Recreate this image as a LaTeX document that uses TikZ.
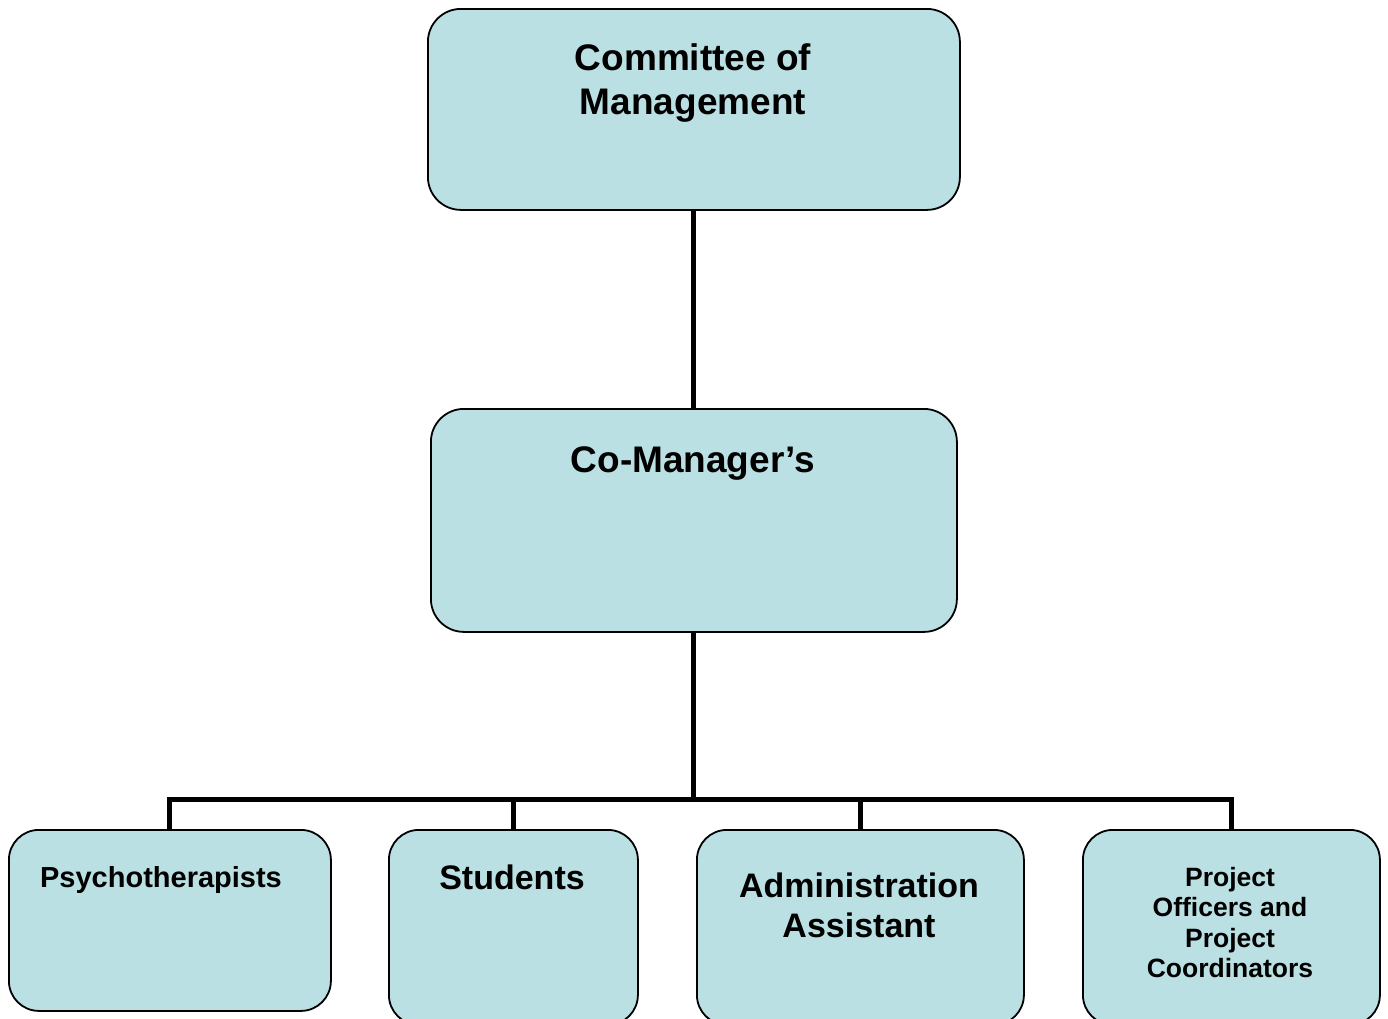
\documentclass[tikz,border=0pt]{standalone}
\usepackage{fontspec}
\setmainfont{Liberation Sans}
\definecolor{boxfill}{RGB}{187,224,227}
\tikzset{
  orgbox/.style={draw=black, line width=1.8pt, fill=boxfill, rounded corners=33pt, anchor=north west, inner sep=0pt},
  orgtext/.style={anchor=north, align=center, inner sep=0pt, font=\bfseries},
  conn/.style={draw=black, line width=5pt}
}
\begin{document}
\begin{tikzpicture}[x=1pt,y=-1pt]
\useasboundingbox (0,0) rectangle (1388,1018);
% boxes
\node[orgbox, minimum width=532pt, minimum height=201pt] (top) at (427,8) {};
\node[orgbox, minimum width=526pt, minimum height=223pt] (mid) at (430,408) {};
\node[orgbox, minimum width=322pt, minimum height=181pt, rounded corners=30pt] (psy) at (8,829) {};
\node[orgbox, minimum width=249pt, minimum height=195pt, rounded corners=30pt] (stu) at (388,829) {};
\node[orgbox, minimum width=327pt, minimum height=195pt, rounded corners=30pt] (adm) at (696,829) {};
\node[orgbox, minimum width=297pt, minimum height=195pt, rounded corners=30pt] (proj) at (1082,829) {};
% texts
\node[orgtext, font=\bfseries\fontsize{37}{44}\selectfont] (toptxt) at (693,43) {Committee of\\Management};
\node[orgtext, font=\bfseries\fontsize{37}{44}\selectfont] (midtxt) at (693,446) {Co-Manager’s};
\node[orgtext, font=\bfseries\fontsize{29}{34}\selectfont] (psytxt) at (161,866) {Psychotherapists};
\node[orgtext, font=\bfseries\fontsize{34}{40}\selectfont] (stutxt) at (512,865) {Students};
\node[orgtext, font=\bfseries\fontsize{34}{40}\selectfont] (admtxt) at (859,873) {Administration\\Assistant};
\node[orgtext, font=\bfseries\fontsize{26.5}{30.5}\selectfont] (projtxt) at (1230,867) {Project\\Officers and\\Project\\Coordinators};
% connectors
\coordinate (bus) at (mid.south |- 0,799);
\draw[conn] (top.south) -- (top.south |- mid.north);
\draw[conn] (mid.south) -- (bus);
\draw[conn, line join=miter] (psy.north) |- (bus) -| (proj.north);
\draw[conn] (stu.north) -- (stu.north |- bus);
\draw[conn] (adm.north) -- (adm.north |- bus);
\end{tikzpicture}
\end{document}
